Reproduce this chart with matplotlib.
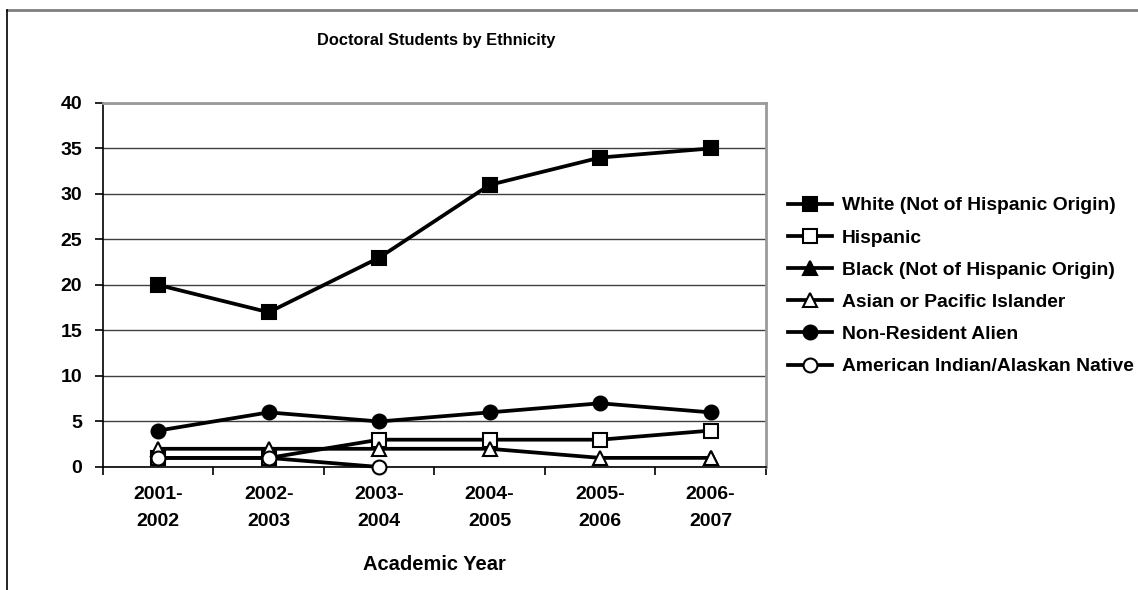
import numpy as np
import matplotlib
matplotlib.use('Agg')
import matplotlib.pyplot as plt

plt.rcParams['font.family'] = ['Liberation Sans', 'DejaVu Sans']
plt.rcParams['font.weight'] = 'bold'

years = ['2001-\n2002', '2002-\n2003', '2003-\n2004', '2004-\n2005', '2005-\n2006', '2006-\n2007']

white = [20, 17, 23, 31, 34, 35]
hispanic = [1, 1, 3, 3, 3, 4]
black = [np.nan, np.nan, np.nan, np.nan, np.nan, 1]
asian = [2, 2, 2, 2, 1, 1]
nonres = [4, 6, 5, 6, 7, 6]
amind = [1, 1, 0, np.nan, np.nan, np.nan]

labels = ['White (Not of Hispanic Origin)', 'Hispanic', 'Black (Not of Hispanic Origin)',
          'Asian or Pacific Islander', 'Non-Resident Alien', 'American Indian/Alaskan Native']

fig = plt.figure(figsize=(11.38, 5.9), dpi=100)
ax = fig.add_axes([0.0905, 0.2085, 0.5825, 0.617])

x = np.arange(len(years))
lw = 2.7
ms = 10
styles = [
    (white, 's', 'black'),
    (hispanic, 's', 'white'),
    (black, '^', 'black'),
    (asian, '^', 'white'),
    (nonres, 'o', 'black'),
    (amind, 'o', 'white'),
]
for (vals, m, fc), lab in zip(styles, labels):
    ax.plot(x, vals, color='black', lw=lw, marker=m, markersize=ms,
            markerfacecolor=fc, markeredgecolor='black', markeredgewidth=1.5,
            label=lab, clip_on=False, zorder=3)

ax.set_ylim(0, 40)
ax.set_yticks(range(0, 41, 5))
ax.set_xlim(-0.5, 5.5)
ax.set_xticks(x)
ax.set_xticklabels(years, fontsize=14, fontweight='bold', linespacing=1.75)
ax.set_xticks(np.arange(-0.5, 6, 1), minor=True)
ax.tick_params(axis='x', which='major', length=0, pad=14)
ax.tick_params(axis='x', which='minor', length=6, direction='out', width=1.2)
ax.tick_params(axis='y', length=6, width=1.2, direction='out', labelsize=14, pad=9)
for t in ax.get_yticklabels():
    t.set_fontweight('bold')

ax.grid(axis='y', color='#404040', lw=1)
ax.set_axisbelow(True)
for s in ['top', 'right']:
    ax.spines[s].set_color('#9a9a9a')
    ax.spines[s].set_linewidth(2)
for s in ['left', 'bottom']:
    ax.spines[s].set_color('black')
    ax.spines[s].set_linewidth(1.2)

ax.set_xlabel('Academic Year', fontsize=14.5, fontweight='bold', labelpad=18)
fig.text(0.383, 0.932, 'Doctoral Students by Ethnicity', fontsize=11.8,
         fontweight='bold', ha='center', va='center')

fig.legend(loc='center left', bbox_to_anchor=(0.6855, 0.515), frameon=False,
           fontsize=13.9, handlelength=2.3, handletextpad=0.5, labelspacing=0.76,
           borderaxespad=0)

# outer chart border (top and left visible)
fig.add_artist(plt.Line2D([0.006, 1.0], [0.983, 0.983], color='#808080', lw=2,
                          transform=fig.transFigure))
fig.add_artist(plt.Line2D([0.006, 0.006], [0.0, 0.983], color='black', lw=1.2,
                          transform=fig.transFigure))

fig.savefig('out.png', dpi=100)
